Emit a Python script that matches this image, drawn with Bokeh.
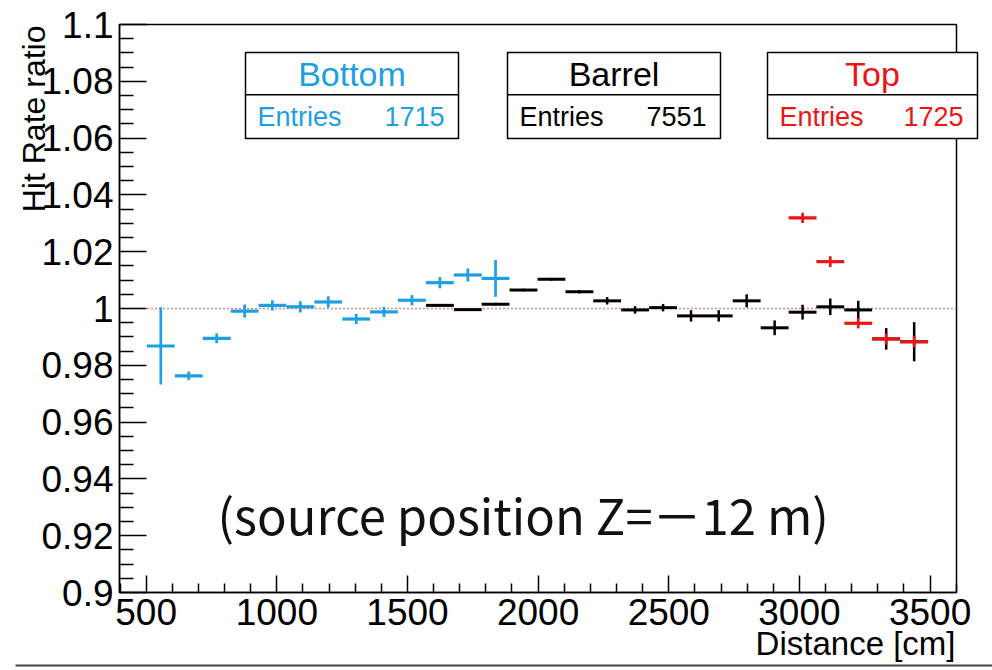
import numpy as np
from bokeh.plotting import figure
from bokeh.models import (FixedTicker, Label, BoxAnnotation, CustomJSTickFormatter,
                          LinearAxis)
from bokeh.embed import file_html
from bokeh.resources import INLINE

# ---------------- data ----------------
bottom_x = [556, 663, 770, 877, 983, 1090, 1197, 1304, 1410, 1517, 1624, 1731, 1837]
bottom_y = [0.9868, 0.9763, 0.9895, 0.9991, 1.0011, 1.0006, 1.0023, 0.9963, 0.9988,
            1.0029, 1.0091, 1.0118, 1.0106]
bottom_err = [0.0136, 0.0015, 0.0017, 0.0023, 0.0018, 0.0020, 0.0020, 0.0018, 0.0018,
              0.0018, 0.0020, 0.0023, 0.0065]

barrel_x = [1624, 1731, 1837, 1944, 2051, 2158, 2264, 2371, 2478, 2585, 2691, 2798,
            2905, 3012, 3118, 3225, 3332, 3439]
barrel_y = [1.0011, 0.9996, 1.0015, 1.0065, 1.0103, 1.0059, 1.0027, 0.9995, 1.0003,
            0.9974, 0.9974, 1.0027, 0.9932, 0.9987, 1.0006, 0.9995, 0.9893, 0.9883]
barrel_err = [0.0005, 0.0003, 0.0005, 0.0005, 0.0005, 0.0006, 0.0013, 0.0013, 0.0013,
              0.0020, 0.0020, 0.0023, 0.0026, 0.0026, 0.0029, 0.0032, 0.0038, 0.0069]

top_x = [3012, 3118, 3225, 3332, 3439]
top_y = [1.0319, 1.0165, 0.9948, 0.9893, 0.9883]
top_err = [0.0018, 0.0019, 0.0018, 0.0020, 0.0020]

bin_half_width = 53.3

x_ticks = [500, 1000, 1500, 2000, 2500, 3000, 3500]
x_minor = [400, 600, 700, 800, 900, 1100, 1200, 1300, 1400, 1600, 1700, 1800, 1900,
           2100, 2200, 2300, 2400, 2600, 2700, 2800, 2900, 3100, 3200, 3300, 3400, 3600]
y_ticks = [0.9, 0.92, 0.94, 0.96, 0.98, 1.0, 1.02, 1.04, 1.06, 1.08, 1.1]
y_minor = [0.905, 0.91, 0.915, 0.925, 0.93, 0.935, 0.945, 0.95, 0.955, 0.965, 0.97, 0.975,
           0.985, 0.99, 0.995, 1.005, 1.01, 1.015, 1.025, 1.03, 1.035, 1.045, 1.05, 1.055,
           1.065, 1.07, 1.075, 1.085, 1.09, 1.095]

legend_names = ["Bottom", "Barrel", "Top"]
legend_entries = ["1715", "7551", "1725"]

BLUE = "#1E9FE3"
BLACK = "#000000"
RED = "#EC1515"

# histogram frame (data) and where it sits on the page (pixels)
XR = (398, 3601)
YR = (0.9, 1.1)
FL, FR, FT, FB = 119, 956, 24, 592
W, H = 992, 670


def dx(px):
    return XR[0] + (px - FL) * (XR[1] - XR[0]) / (FR - FL)


def dy(py):
    return YR[1] - (py - FT) * (YR[1] - YR[0]) / (FB - FT)


p = figure(width=W, height=H, x_range=(dx(0), dx(W)), y_range=(dy(H), dy(0)),
           output_backend="svg", toolbar_location=None,
           x_axis_location=None, y_axis_location=None,
           min_border_left=0, min_border_right=0, min_border_top=0, min_border_bottom=0)
p.grid.visible = False
p.outline_line_color = None
p.background_fill_color = "white"
p.border_fill_color = "white"

fmt = CustomJSTickFormatter(code="return String(tick);")

xax = LinearAxis(fixed_location=YR[0], bounds=XR,
                 ticker=FixedTicker(ticks=x_ticks, minor_ticks=x_minor), formatter=fmt)
yax = LinearAxis(fixed_location=XR[0], bounds=YR,
                 ticker=FixedTicker(ticks=y_ticks, minor_ticks=y_minor), formatter=fmt)
for ax in (xax, yax):
    ax.axis_line_color = "black"
    ax.axis_line_width = 1.5
    ax.major_tick_line_width = 1.5
    ax.minor_tick_line_width = 1.5
    ax.major_tick_line_color = "black"
    ax.minor_tick_line_color = "black"
    ax.major_tick_out = 0
    ax.minor_tick_out = 0
    ax.major_label_text_font = "Liberation Sans"
    ax.major_label_text_font_size = "37px"
    ax.major_label_text_color = "black"
xax.major_tick_in = 17
xax.minor_tick_in = 9
xax.major_label_standoff = 6
yax.major_tick_in = 27
yax.minor_tick_in = 14
yax.major_label_standoff = 6

# frame box of the histogram
p.quad(left=[XR[0]], right=[XR[1]], bottom=[YR[0]], top=[YR[1]],
       fill_color=None, line_color="black", line_width=1.5)

p.add_layout(xax, "below")
p.add_layout(yax, "left")

# reference line at 1
p.segment(x0=[XR[0]], x1=[XR[1]], y0=[1.0], y1=[1.0], line_color="#D01010",
          line_dash="1 3", line_width=1.3)


def draw(xs, ys, es, color, lw):
    x = np.array(xs, dtype=float)
    y = np.array(ys, dtype=float)
    e = np.array(es, dtype=float)
    p.segment(x0=x - bin_half_width, x1=x + bin_half_width, y0=y, y1=y,
              line_color=color, line_width=lw)
    p.segment(x0=x, x1=x, y0=y - e, y1=y + e, line_color=color, line_width=lw - 0.5)


draw(bottom_x, bottom_y, bottom_err, BLUE, 3.2)
draw(barrel_x, barrel_y, barrel_err, BLACK, 3.0)
draw(top_x, top_y, top_err, RED, 3.2)

# legend boxes
boxes = [(245, 458, BLUE), (507, 720, BLACK), (767, 977, RED)]
for (l, r, c), name, n in zip(boxes, legend_names, legend_entries):
    p.add_layout(BoxAnnotation(left=dx(l), right=dx(r), top=dy(52), bottom=dy(138),
                               fill_color="white", fill_alpha=1.0, line_color="black",
                               line_width=1.5, line_alpha=1.0))
    p.add_layout(BoxAnnotation(left=dx(l), right=dx(r), top=dy(93.5), bottom=dy(95),
                               fill_color="black", fill_alpha=1.0, line_alpha=0))
    p.add_layout(Label(x=dx((l + r) / 2), y=dy(73), text=name, text_color=c,
                       text_font="Liberation Sans", text_font_size="34px",
                       text_align="center", text_baseline="alphabetic"))
    p.add_layout(Label(x=dx(l + 12), y=dy(116), text="Entries", text_color=c,
                       text_font="Liberation Sans", text_font_size="27px",
                       text_align="left", text_baseline="alphabetic"))
    p.add_layout(Label(x=dx(r - 14), y=dy(116), text=n, text_color=c,
                       text_font="Liberation Sans", text_font_size="27px",
                       text_align="right", text_baseline="alphabetic"))

# axis titles
p.add_layout(Label(x=dx(33), y=dy(25), text="Hit Rate ratio", angle=np.pi / 2,
                   text_font="Liberation Sans", text_font_size="32px", text_color="black",
                   text_align="right", text_baseline="alphabetic"))
p.add_layout(Label(x=dx(955), y=dy(643), text="Distance [cm]",
                   text_font="Liberation Sans", text_font_size="33px", text_color="black",
                   text_align="right", text_baseline="alphabetic"))

# annotation text
p.add_layout(Label(x=dx(217), y=dy(513), text="(source position Z=－12 m)",
                   text_font="Noto Sans CJK JP", text_font_size="49px", text_color="#111111",
                   text_align="left", text_baseline="alphabetic"))

# slide separator line at the bottom
p.add_layout(BoxAnnotation(left=dx(15), right=dx(992), top=dy(664), bottom=dy(666),
                           fill_color="#444444", fill_alpha=1.0, line_alpha=0))

open("out.html", "w").write(file_html(p, INLINE))
